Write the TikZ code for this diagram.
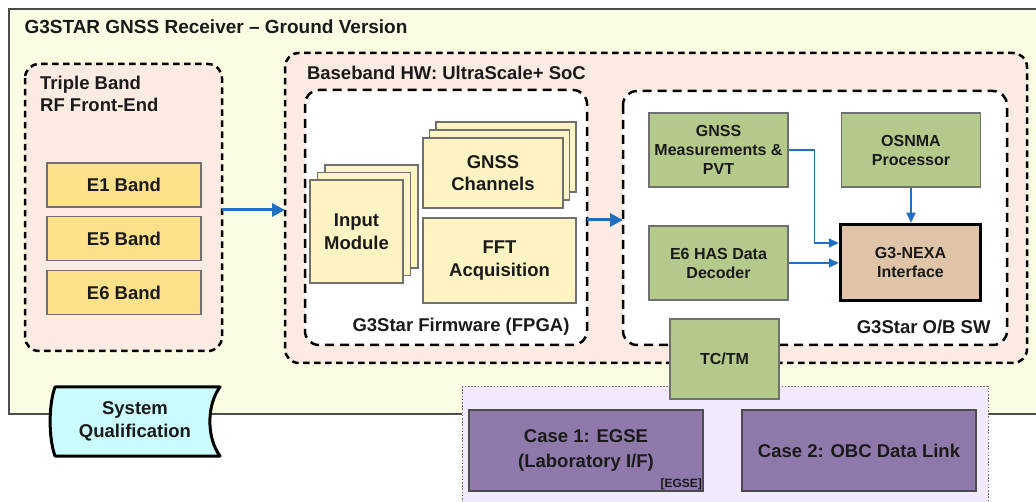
\documentclass[tikz,border=0pt]{standalone}
\usepackage{fontspec}
\setmainfont{Liberation Sans}
\usetikzlibrary{arrows.meta}

\definecolor{txt}{HTML}{1A1A1A}
\definecolor{outerfill}{HTML}{FAFDE4}
\definecolor{peach}{HTML}{FCEBE2}
\definecolor{bandfill}{HTML}{FDE08A}
\definecolor{paleyellow}{HTML}{FEF3C3}
\definecolor{greenfill}{HTML}{B5C98A}
\definecolor{tanfill}{HTML}{DFC4A8}
\definecolor{flowblue}{HTML}{1F70C1}
\definecolor{lavender}{HTML}{F2EAFC}
\definecolor{purplefill}{HTML}{8F79AB}
\definecolor{cyanfill}{HTML}{CBFCFD}
\definecolor{edgegray}{HTML}{707070}

\newcommand{\bigfont}{\fontsize{18.5}{22.5}\selectfont\bfseries}
\newcommand{\midfont}{\fontsize{16}{19}\selectfont\bfseries}

\begin{document}
\begin{tikzpicture}[x=1pt,y=-1pt,
  every node/.style={text=txt},
  grpshort/.style={draw=black, line width=2.5pt, dash pattern=on 6.5pt off 4.5pt, rounded corners=14pt},
  grplong/.style={draw=black, line width=2.5pt, dash pattern=on 9pt off 6pt, rounded corners=14pt},
  band/.style={draw=edgegray, line width=1.1pt, fill=bandfill, font=\bigfont, align=center, inner sep=0pt, minimum width=154, minimum height=44},
  ybox/.style={draw=edgegray, line width=1.1pt, fill=paleyellow, font=\bigfont, align=center, inner sep=0pt},
  gbox/.style={draw=edgegray, line width=1.1pt, fill=greenfill, font=\midfont, align=center, inner sep=0pt, minimum width=139, minimum height=74},
  pbox/.style={draw=black!70, line width=1.1pt, fill=purplefill, font=\fontsize{18.5}{25}\selectfont\bfseries, align=center, inner sep=0pt, minimum width=234, minimum height=81},
  flowthick/.style={draw=flowblue, line width=3pt, -{Triangle[length=13pt,width=13pt]}},
  flowthin/.style={draw=flowblue, line width=1.8pt, -{Triangle[length=10pt,width=9pt]}},
]
\useasboundingbox (0,0) rectangle (1036,502);
\clip (0,0) rectangle (1036,502);

% receiver enclosure
\draw[draw=black!70, line width=1.2pt, fill=outerfill] (9,9) rectangle (1050,414);
\node[anchor=west, font=\fontsize{19}{23}\selectfont\bfseries] (title) at (21,27) {G3STAR GNSS Receiver -- Ground Version};

% RF front-end
\draw[grpshort, fill=peach] (25,64) rectangle (222,351);
\node[anchor=north west, font=\bigfont, align=left, inner sep=0pt] (rflbl) at (40,75.5) {Triple Band\\RF Front-End};
\node[band] (e1) at (124,185) {E1 Band};
\node[band] (e5) at (124,238.5) {E5 Band};
\node[band] (e6) at (124,292.5) {E6 Band};
\coordinate (rfout) at (222,210);

% baseband hardware
\draw[grpshort, fill=peach] (285,53) rectangle (1027,363);
\node[anchor=west, font=\bigfont] (bblbl) at (303.5,73) {Baseband HW: UltraScale+ SoC};
\coordinate (bbin) at (285,210);

% firmware
\draw[grplong, fill=white] (305,90) rectangle (587,345);
\node[anchor=east, font=\bigfont] (fwlbl) at (573,327) {G3Star Firmware (FPGA)};
\node[ybox, minimum width=93, minimum height=103] (inmodc) at (371.5,216.5) {};
\node[ybox, minimum width=93, minimum height=103] (inmodb) at (364,224) {};
\node[ybox, minimum width=93, minimum height=103] (inmod) at (356.5,231.5) {Input\\Module};
\node[ybox, minimum width=140, minimum height=70] (chanc) at (506,157) {};
\node[ybox, minimum width=140, minimum height=70] (chanb) at (499.5,165) {};
\node[ybox, minimum width=140, minimum height=70] (chan) at (493,173) {GNSS\\Channels};
\node[ybox, minimum width=153, minimum height=85] (fft) at (499.5,260.5) {FFT\\Acquisition};
\coordinate (fwout) at (587,220);

% on-board software
\draw[grplong, fill=white] (623,91) rectangle (1007,345);
\node[anchor=east, font=\bigfont] (swlbl) at (994,327) {G3Star O/B SW};
\coordinate (swin) at (623,220);
\node[gbox] (meas) at (718.5,150) {GNSS\\Measurements \&\\PVT};
\node[gbox] (osnma) at (911,150) {OSNMA\\Processor};
\node[gbox] (has) at (718.5,263) {E6 HAS Data\\Decoder};
\node[draw=black, line width=3.5pt, fill=tanfill, font=\midfont, align=center, inner sep=0pt, minimum width=140, minimum height=76] (nexa) at (910.5,262.5) {G3-NEXA\\Interface};

\draw[flowthin] (meas.east) -- ++(26,0) |- ([yshift=19.5pt]nexa.west);
\draw[flowthin] (has.east) -- (has.east -| nexa.west);
\draw[flowthin] (osnma.south) -- (osnma.south |- nexa.north);

\draw[flowthick] (rfout) -- (bbin);
\draw[flowthick] (fwout) -- (swin);

% external interfaces
\draw[draw=black!55, line width=0.9pt, dash pattern=on 1.6pt off 1.6pt, fill=lavender] (462,386) rectangle (988,515);
\node[pbox] (case1) at (586,450.5) {Case 1: EGSE\\(Laboratory I/F)};
\node[anchor=south east, font=\fontsize{12}{14}\selectfont\bfseries, inner sep=1.5pt] (egse) at (case1.south east) {[EGSE]};
\node[pbox] (case2) at (859,450.5) {Case 2: OBC Data Link};
\node[draw=edgegray, line width=1.1pt, fill=greenfill, font=\midfont, inner sep=0pt, minimum width=109, minimum height=80] (tctm) at (724.5,359) {TC/TM};

% qualification tag
\draw[draw=black, line width=3pt, fill=cyanfill, line join=round]
  (55,387) -- (220,387) .. controls (206.5,405) and (206.5,438) .. (220,456)
  -- (55,456) .. controls (48.5,438) and (48.5,405) .. (55,387) -- cycle;
\node[font=\bigfont, align=center] (sq) at (135,421.5) {System\\Qualification};
\end{tikzpicture}
\end{document}
